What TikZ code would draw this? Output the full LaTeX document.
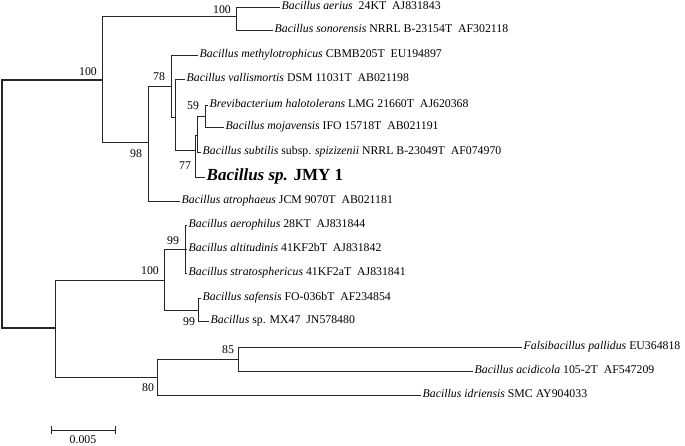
\documentclass[tikz,border=0pt]{standalone}
\usepackage{fontspec}
\setmainfont{Liberation Serif}
\usetikzlibrary{positioning}
\tikzset{
  branch/.style={draw=black!85, line width=0.8pt},
  tip/.style={anchor=west, inner sep=1.5pt, font=\fontsize{11.8}{13}\selectfont,
    text height=8pt, text depth=2.5pt},
  hit/.style={tip, font=\fontsize{17}{19}\selectfont\bfseries,
    text height=11.5pt, text depth=3.5pt},
  boot/.style={inner sep=0pt, font=\fontsize{11.8}{13}\selectfont},
}

\begin{document}
\begin{tikzpicture}[x=1pt,y=-1pt]
\useasboundingbox (0,0) rectangle (685,446);

% inner nodes of the tree
\coordinate (root) at (2,204);
\coordinate (nA)   at (102,80);
\coordinate (n100) at (236,16);
\coordinate (n98)  at (148,142);
\coordinate (n78)  at (171,86);
\coordinate (nV)   at (175,117);
\coordinate (n77)  at (195,150);
\coordinate (nS)   at (197,135);
\coordinate (n59)  at (205,116);
\coordinate (nB)   at (55,328);
\coordinate (nC)   at (164,280);
\coordinate (n99a) at (185,249);
\coordinate (n99b) at (198,310);
\coordinate (n80)  at (157,377);
\coordinate (n85)  at (238,359);

% taxa
\node[tip] (aerius)  at (280,7)   {\textit{Bacillus aerius}\ \ 24KT\ \ AJ831843};
\node[tip] (sonor)   at (273,30)  {\textit{Bacillus sonorensis} NRRL B-23154T\ \ AF302118};
\node[tip] (methyl)  at (198,55)  {\textit{Bacillus methylotrophicus} CBMB205T\ \ EU194897};
\node[tip] (vallis)  at (185,79)  {\textit{Bacillus vallismortis} DSM 11031T\ \ AB021198};
\node[tip] (brevi)   at (208,105) {\textit{Brevibacterium halotolerans} LMG 21660T\ \ AJ620368};
\node[tip] (mojav)   at (224,127) {\textit{Bacillus mojavensis} IFO 15718T\ \ AB021191};
\node[tip] (subtil)  at (201,152) {\textit{Bacillus subtilis} subsp. \textit{spizizenii} NRRL B-23049T\ \ AF074970};
\node[hit] (jmy)     at (205,177) {\textit{Bacillus sp.} JMY 1};
\node[tip] (atroph)  at (180,201) {\textit{Bacillus atrophaeus} JCM 9070T\ \ AB021181};
\node[tip] (aeroph)  at (187,225) {\textit{Bacillus aerophilus} 28KT\ \ AJ831844};
\node[tip] (altit)   at (187,249) {\textit{Bacillus altitudinis} 41KF2bT\ \ AJ831842};
\node[tip] (strato)  at (187,273) {\textit{Bacillus stratosphericus} 41KF2aT\ \ AJ831841};
\node[tip] (safens)  at (201,298) {\textit{Bacillus safensis} FO-036bT\ \ AF234854};
\node[tip] (mx47)    at (209,321) {\textit{Bacillus} sp. MX47\ \ JN578480};
\node[tip] (falsi)   at (522,347) {\textit{Falsibacillus pallidus} EU364818};
\node[tip] (acidi)   at (473,371) {\textit{Bacillus acidicola} 105-2T\ \ AF547209};
\node[tip] (idrien)  at (421,395) {\textit{Bacillus idriensis} SMC AY904033};

% branches
\draw[branch, line width=1.2pt] (root) |- (nA);
\draw[branch, line width=1.2pt] (root) |- (nB);
\draw[branch] (nA) |- (n100);
\draw[branch] (nA) |- (n98);
\draw[branch] (n100) |- (aerius.west);
\draw[branch] (n100) |- (sonor.west);
\draw[branch] (n98) |- (n78);
\draw[branch] (n98) |- (atroph.west);
\draw[branch] (n78) |- (methyl.west);
\draw[branch] (n78) |- (nV);
\draw[branch] (nV) |- (vallis.west);
\draw[branch] (nV) |- (n77);
\draw[branch] (n77) |- (nS);
\draw[branch] (n77) |- (jmy.west);
\draw[branch] (nS) |- (n59);
\draw[branch] (nS) |- (subtil.west);
\draw[branch] (n59) |- (brevi.west);
\draw[branch] (n59) |- (mojav.west);
\draw[branch] (nB) |- (nC);
\draw[branch] (nB) |- (n80);
\draw[branch] (nC) |- (n99a);
\draw[branch] (nC) |- (n99b);
\draw[branch] (n99a) |- (aeroph.west);
\draw[branch] (n99a) |- (altit.west);
\draw[branch] (n99a) |- (strato.west);
\draw[branch] (n99b) |- (safens.west);
\draw[branch] (n99b) |- (mx47.west);
\draw[branch] (n80) |- (n85);
\draw[branch] (n80) |- (idrien.west);
\draw[branch] (n85) |- (falsi.west);
\draw[branch] (n85) |- (acidi.west);

% bootstrap values
\node[boot] (bsA)   at (88,72)   {100};
\node[boot] (bs100) at (222,10)  {100};
\node[boot] (bs98)  at (136,154) {98};
\node[boot] (bs78)  at (159,77)  {78};
\node[boot] (bs59)  at (193,106) {59};
\node[boot] (bs77)  at (185,166) {77};
\node[boot] (bsC)   at (150,271) {100};
\node[boot] (bs99a) at (173,241) {99};
\node[boot] (bs99b) at (189,322) {99};
\node[boot] (bs85)  at (228,350) {85};
\node[boot] (bs80)  at (148,388) {80};

% scale bar
\coordinate (sbL) at (51,430);
\coordinate (sbR) at (115,430);
\draw[branch] (sbL) -- (sbR);
\draw[branch] ([yshift=-4pt]sbL) -- ([yshift=4pt]sbL);
\draw[branch] ([yshift=-4pt]sbR) -- ([yshift=4pt]sbR);
\node[boot, below=5pt of sbL, xshift=32pt] (sblabel) {0.005};

\end{tikzpicture}
\end{document}
